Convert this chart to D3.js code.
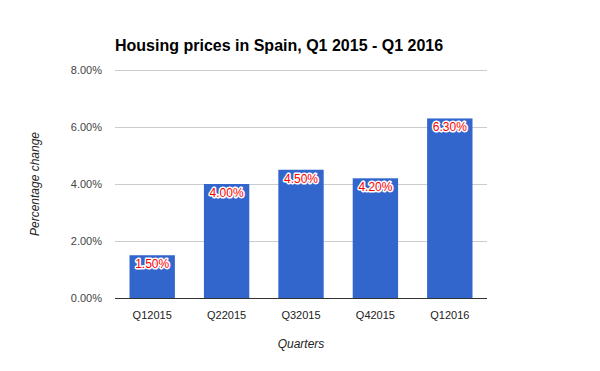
<!DOCTYPE html>
<html>
<head>
<meta charset="utf-8">
<script src="https://cdn.jsdelivr.net/npm/d3@7"></script>
<style>
  body { margin: 0; background: #fff; overflow: hidden; }
  svg { display: block; font-family: "Liberation Sans", Arial, sans-serif; }
</style>
</head>
<body>
<div id="chart"></div>
<script>
// Chart data
var quarters = ["Q12015", "Q22015", "Q32015", "Q42015", "Q12016"];
var changes = [1.5, 4.0, 4.5, 4.2, 6.3];
var yTicks = [0, 2, 4, 6, 8];

var width = 600;
var height = 371;
var margin = { top: 70, right: 113, bottom: 73, left: 115 };
var plotRight = width - margin.right;
var plotBottom = height - margin.bottom;

var svg = d3
  .select("#chart")
  .append("svg")
  .attr("width", width)
  .attr("height", height);

// Scales (absolute page coordinates)
var xScale = d3
  .scaleBand()
  .domain(quarters)
  .range([margin.left, plotRight])
  .paddingInner(0.39)
  .paddingOuter(0.195);
var yScale = d3.scaleLinear().domain([0, 8]).range([plotBottom, margin.top]);

// Gridlines
svg
  .selectAll(".grid")
  .data(yTicks.filter((d) => d > 0))
  .enter()
  .append("line")
  .attr("x1", margin.left)
  .attr("x2", plotRight)
  .attr("y1", (d) => Math.round(yScale(d)) + 0.5)
  .attr("y2", (d) => Math.round(yScale(d)) + 0.5)
  .attr("stroke", "#cccccc")
  .attr("stroke-width", 1);

// Y axis labels
var yAxis = d3
  .axisLeft(yScale)
  .tickValues(yTicks)
  .tickSize(0)
  .tickPadding(13)
  .tickFormat((d) => d.toFixed(2) + "%");

svg
  .append("g")
  .attr("transform", "translate(" + margin.left + ",0)")
  .attr("font-size", 11)
  .call(yAxis)
  .call((s) => s.select(".domain").remove())
  .selectAll("text")
  .attr("font-size", "11px")
  .attr("font-family", "Liberation Sans, Arial, sans-serif")
  .attr("fill", "#444");

// Bars
svg
  .selectAll(".bar")
  .data(changes)
  .enter()
  .append("rect")
  .attr("x", (d, i) => xScale(quarters[i]))
  .attr("y", (d) => yScale(d))
  .attr("width", xScale.bandwidth())
  .attr("height", (d) => plotBottom - yScale(d))
  .attr("fill", "#3366cc");

// Baseline
svg
  .append("line")
  .attr("x1", margin.left)
  .attr("x2", plotRight)
  .attr("y1", plotBottom + 0.5)
  .attr("y2", plotBottom + 0.5)
  .attr("stroke", "#333")
  .attr("stroke-width", 1);

// X axis labels
var xAxis = d3.axisBottom(xScale).tickSize(0).tickPadding(13);
svg
  .append("g")
  .attr("transform", "translate(0," + plotBottom + ")")
  .attr("font-size", 11)
  .call(xAxis)
  .call((s) => s.select(".domain").remove())
  .selectAll("text")
  .attr("font-size", "11px")
  .attr("font-family", "Liberation Sans, Arial, sans-serif")
  .attr("fill", "#222");

// Value labels: red text with a white halo
svg
  .selectAll(".value")
  .data(changes)
  .enter()
  .append("text")
  .attr("x", (d, i) => xScale(quarters[i]) + xScale.bandwidth() / 2)
  .attr("y", (d) => yScale(d) + 13)
  .attr("text-anchor", "middle")
  .attr("font-size", "12px")
  .attr("fill", "#ff0000")
  .attr("stroke", "#fff")
  .attr("stroke-width", 3)
  .attr("stroke-linejoin", "round")
  .style("paint-order", "stroke")
  .text((d) => d.toFixed(2) + "%");

// Title
svg
  .append("text")
  .attr("x", margin.left)
  .attr("y", 51)
  .attr("font-size", "16px")
  .attr("font-weight", "bold")
  .attr("fill", "#000")
  .text("Housing prices in Spain, Q1 2015 - Q1 2016");

// Axis titles
svg
  .append("text")
  .attr("transform", "translate(39," + (margin.top + plotBottom) / 2 + ") rotate(-90)")
  .attr("text-anchor", "middle")
  .attr("font-size", "12px")
  .attr("font-style", "italic")
  .attr("fill", "#222")
  .text("Percentage change");

svg
  .append("text")
  .attr("x", (margin.left + plotRight) / 2)
  .attr("y", 348)
  .attr("text-anchor", "middle")
  .attr("font-size", "12px")
  .attr("font-style", "italic")
  .attr("fill", "#222")
  .text("Quarters");
</script>
</body>
</html>
